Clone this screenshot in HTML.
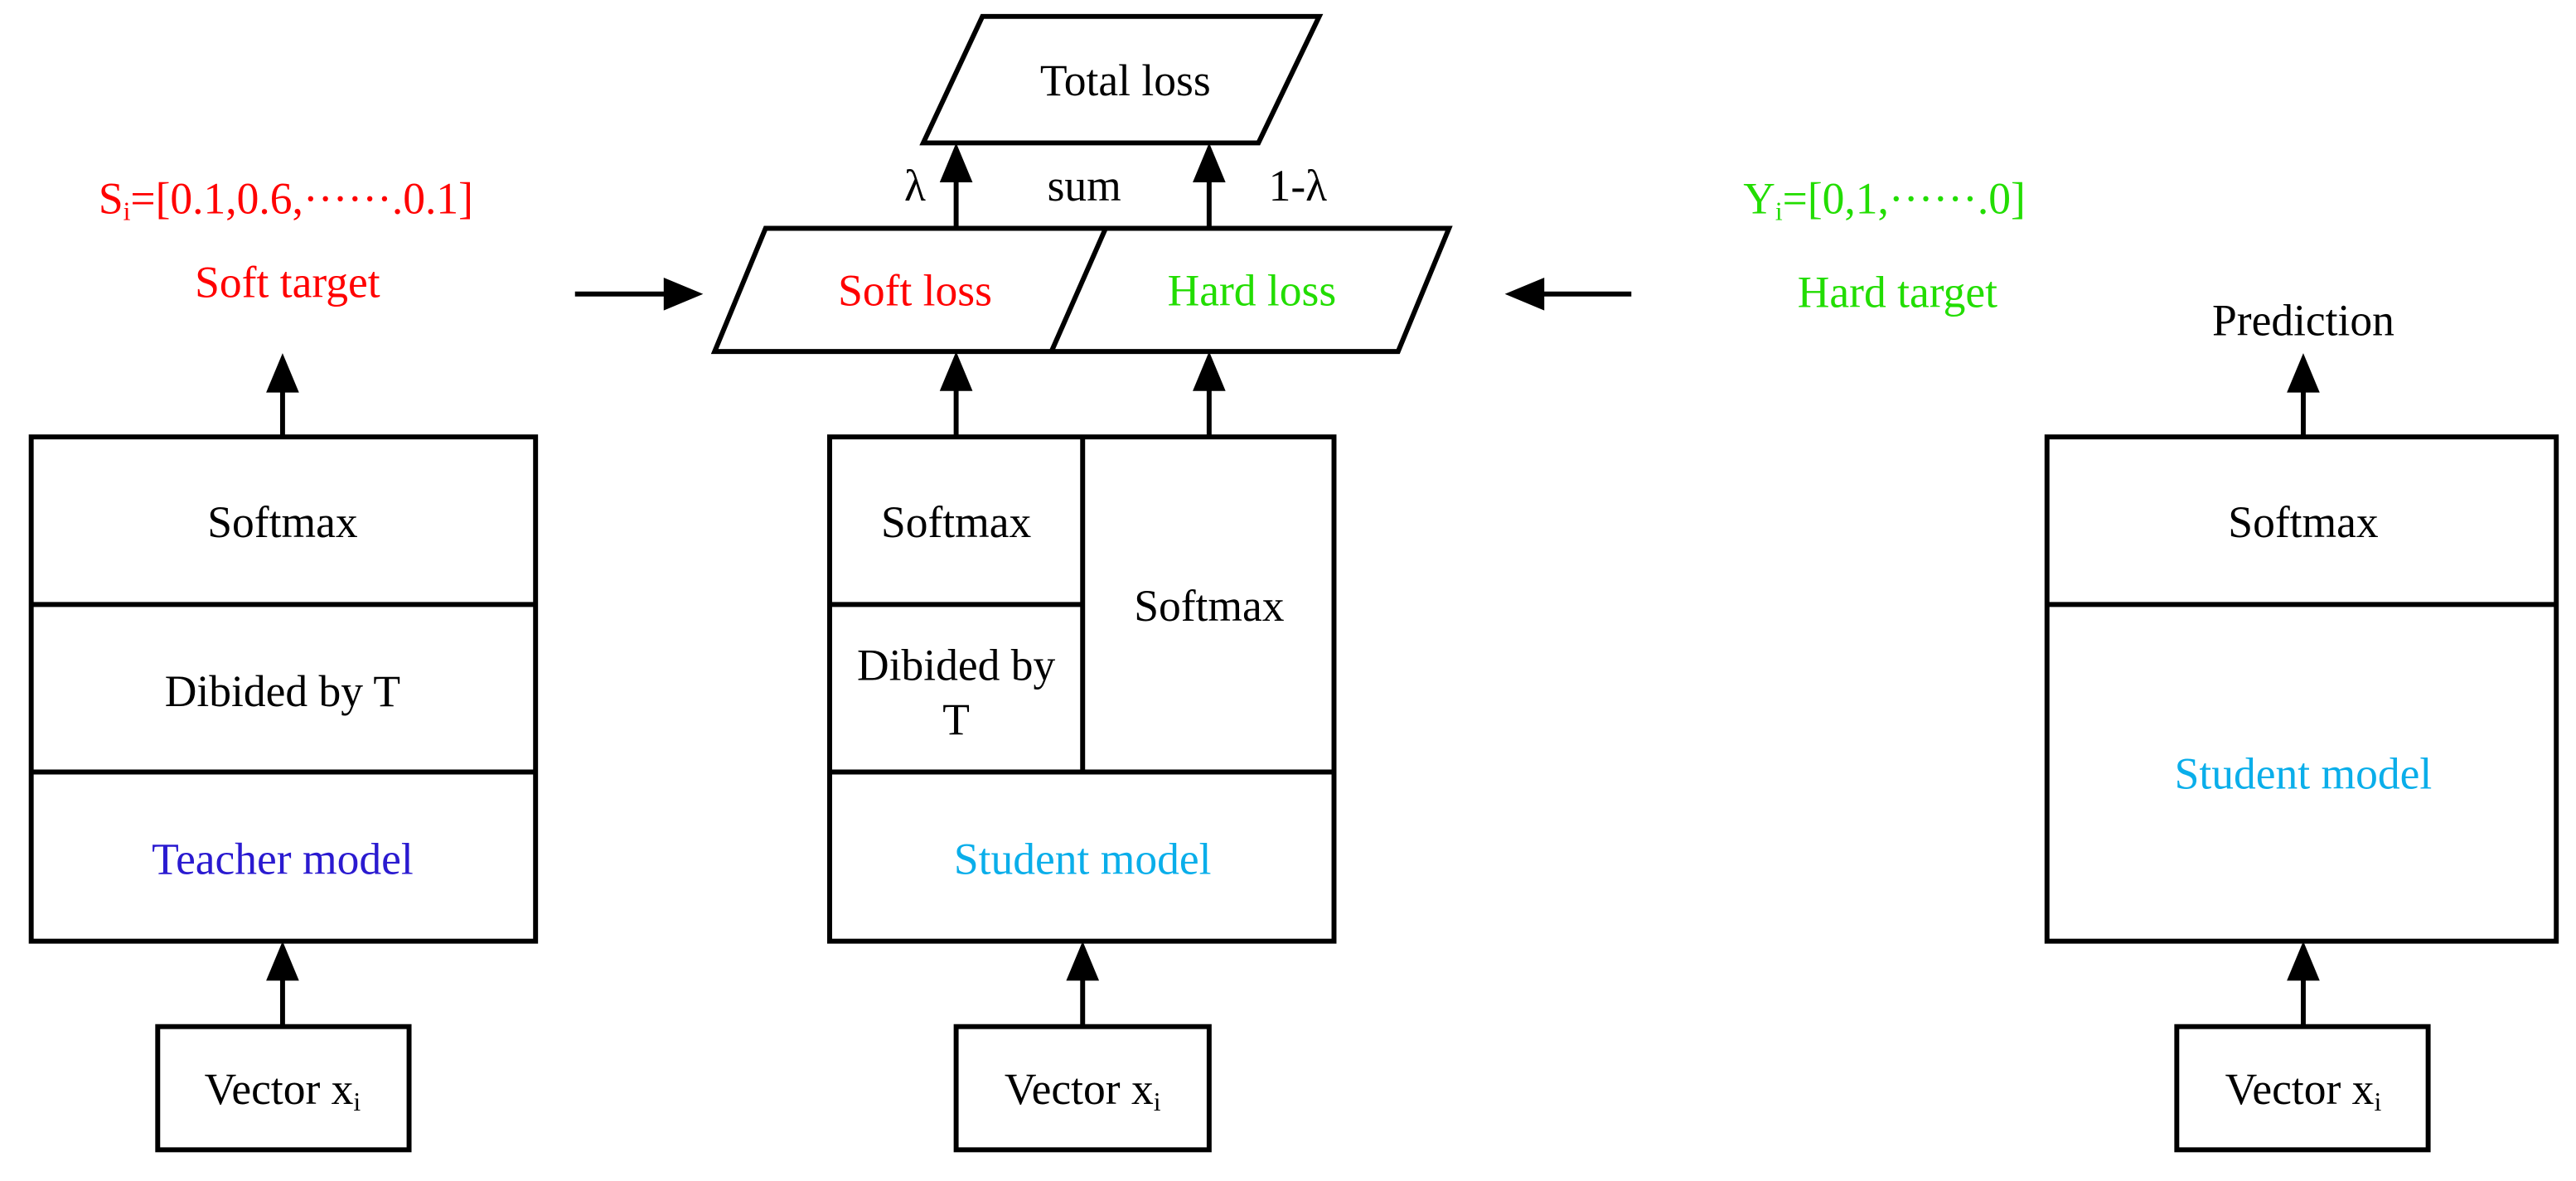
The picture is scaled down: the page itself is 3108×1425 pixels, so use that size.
<!DOCTYPE html>
<html><head><meta charset="utf-8"><style>
html,body{margin:0;padding:0;background:#fff;}
svg{display:block;}
</style></head><body>
<svg width="3108" height="1425" viewBox="0 0 1568 719" preserveAspectRatio="none" xmlns="http://www.w3.org/2000/svg">
<g fill="none" stroke="#000" stroke-width="3">
<rect x="19" y="266" width="307" height="307"/>
<line x1="19" y1="368" x2="326" y2="368"/>
<line x1="19" y1="470" x2="326" y2="470"/>
<rect x="96" y="625" width="153" height="75"/>
<line x1="172" y1="625" x2="172" y2="590"/>
<line x1="172" y1="266" x2="172" y2="232"/>
<rect x="505" y="266" width="307" height="307"/>
<line x1="659" y1="266" x2="659" y2="470"/>
<line x1="505" y1="368" x2="659" y2="368"/>
<line x1="505" y1="470" x2="812" y2="470"/>
<rect x="582" y="625" width="154" height="75"/>
<line x1="659" y1="625" x2="659" y2="590"/>
<line x1="582" y1="266" x2="582" y2="232"/>
<line x1="736" y1="266" x2="736" y2="232"/>
<polygon points="466,139 882,139 851,214 435,214"/>
<line x1="673" y1="139" x2="640" y2="214"/>
<polygon points="598,10 803,10 766,87 562,87"/>
<line x1="582" y1="139" x2="582" y2="104"/>
<line x1="736" y1="139" x2="736" y2="104"/>
<line x1="350" y1="179" x2="410" y2="179"/>
<line x1="934" y1="179" x2="993" y2="179"/>
<rect x="1246" y="266" width="310" height="307"/>
<line x1="1246" y1="368" x2="1556" y2="368"/>
<rect x="1325" y="625" width="153" height="75"/>
<line x1="1402" y1="625" x2="1402" y2="590"/>
<line x1="1402" y1="266" x2="1402" y2="232"/>
</g>
<g fill="#000">
<polygon points="172,215 162,239 182,239"/>
<polygon points="172,573 162,597 182,597"/>
<polygon points="659,573 649,597 669,597"/>
<polygon points="582,214 572,238 592,238"/>
<polygon points="736,214 726,238 746,238"/>
<polygon points="582,87 572,111 592,111"/>
<polygon points="736,87 726,111 746,111"/>
<polygon points="428,179 404,169 404,189"/>
<polygon points="916,179 940,169 940,189"/>
<polygon points="1402,215 1392,239 1412,239"/>
<polygon points="1402,573 1392,597 1412,597"/>
</g>
<g font-family="'Liberation Serif','Times New Roman',serif" font-size="27" text-anchor="middle">
<text x="172" y="327">Softmax</text>
<text x="172" y="430">Dibided by T</text>
<text x="172" y="532" fill="#2a1ad0">Teacher model</text>
<text x="172" y="672">Vector x<tspan font-size="16" dy="4">i</tspan></text>
<text x="174" y="130" fill="#f00">S<tspan font-size="16" dy="4">i</tspan><tspan dy="-4">=[0.1,0.6,······.0.1]</tspan></text>
<text x="175" y="181" fill="#f00">Soft target</text>
<text x="582" y="327">Softmax</text>
<text x="582" y="414">Dibided by</text>
<text x="582" y="447">T</text>
<text x="736" y="378">Softmax</text>
<text x="659" y="532" fill="#0aaeea">Student model</text>
<text x="659" y="672">Vector x<tspan font-size="16" dy="4">i</tspan></text>
<text x="557" y="186" fill="#f00">Soft loss</text>
<text x="762" y="186" fill="#22dd00">Hard loss</text>
<text x="685" y="58">Total loss</text>
<text x="557" y="122">λ</text>
<text x="660" y="122">sum</text>
<text x="790" y="122">1-λ</text>
<text x="1147" y="130" fill="#22dd00">Y<tspan font-size="16" dy="4">i</tspan><tspan dy="-4">=[0,1,······.0]</tspan></text>
<text x="1155" y="187" fill="#22dd00">Hard target</text>
<text x="1402" y="204">Prediction</text>
<text x="1402" y="327">Softmax</text>
<text x="1402" y="480" fill="#0aaeea">Student model</text>
<text x="1402" y="672">Vector x<tspan font-size="16" dy="4">i</tspan></text>
</g>
</svg>
</body></html>
